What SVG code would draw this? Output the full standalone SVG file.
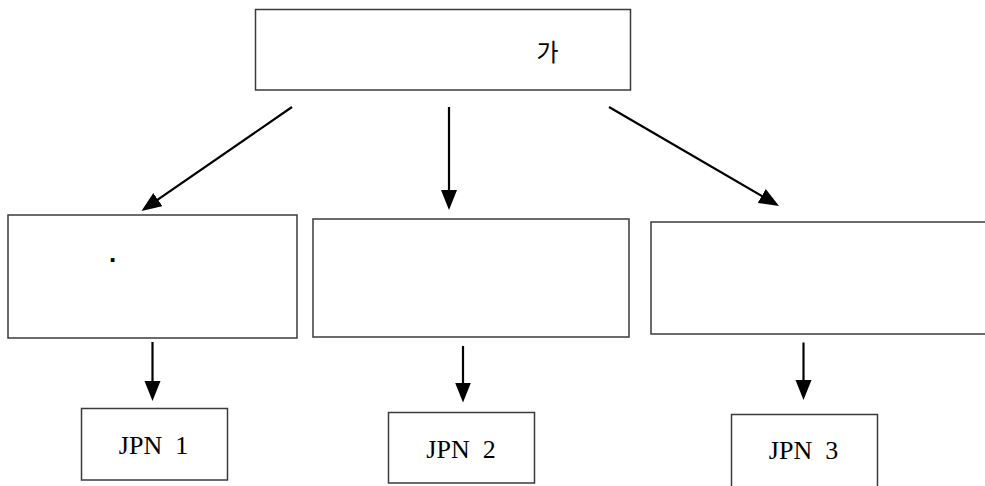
<svg xmlns="http://www.w3.org/2000/svg" width="985" height="486" viewBox="0 0 985 486">
  <style>
    .box { fill: #ffffff; stroke: #3a3a3a; stroke-width: 1.5; }
    .edge { stroke: #000000; stroke-width: 2.2; fill: none; marker-end: url(#head); }
    .ko { font-family: "Noto Sans CJK KR", "Noto Sans", sans-serif; font-size: 24px; fill: #000; }
    .lbl { font-family: "Liberation Serif", "Times New Roman", serif; font-size: 26px; fill: #000; white-space: pre; }
    .dot { font-family: "Liberation Sans", Arial, sans-serif; font-size: 26px; font-weight: bold; fill: #000; }
  </style>
  <defs>
    <marker id="head" markerUnits="userSpaceOnUse" markerWidth="22" markerHeight="18" refX="9" refY="8" orient="auto">
      <path d="M0,0 L20,8 L0,16 Z" fill="#000000"/>
    </marker>
  </defs>
  <rect width="985" height="486" fill="#ffffff"/>

  <g id="root">
    <rect class="box" x="255.5" y="9.5" width="375" height="80.5"/>
    <text class="ko" x="547.5" y="61" text-anchor="middle">가</text>
  </g>

  <g id="branch-1">
    <rect class="box" x="8" y="215" width="289" height="123"/>
    <text class="dot" x="109" y="262">.</text>
  </g>

  <g id="branch-2">
    <rect class="box" x="313" y="219" width="316" height="118"/>
  </g>

  <g id="branch-3">
    <rect class="box" x="651" y="222" width="340" height="112"/>
  </g>

  <g id="jpn-1">
    <rect class="box" x="81.5" y="408.5" width="146" height="71.5"/>
    <text class="lbl" x="153.5" y="454" text-anchor="middle">JPN  1</text>
  </g>

  <g id="jpn-2">
    <rect class="box" x="388.5" y="412.5" width="146" height="70.5"/>
    <text class="lbl" x="461" y="458" text-anchor="middle">JPN  2</text>
  </g>

  <g id="jpn-3">
    <rect class="box" x="731.5" y="414.5" width="146" height="80"/>
    <text class="lbl" x="803.5" y="459" text-anchor="middle">JPN  3</text>
  </g>

  <g id="connectors">
    <line class="edge" x1="292" y1="107" x2="150.5" y2="204.7"/>
    <line class="edge" x1="449" y1="107" x2="449" y2="199"/>
    <line class="edge" x1="609" y1="107" x2="769.5" y2="200.5"/>
    <line class="edge" x1="152.5" y1="342" x2="152.5" y2="390"/>
    <line class="edge" x1="463" y1="346" x2="463" y2="391.5"/>
    <line class="edge" x1="803.5" y1="342.5" x2="803.5" y2="389"/>
  </g>
</svg>
